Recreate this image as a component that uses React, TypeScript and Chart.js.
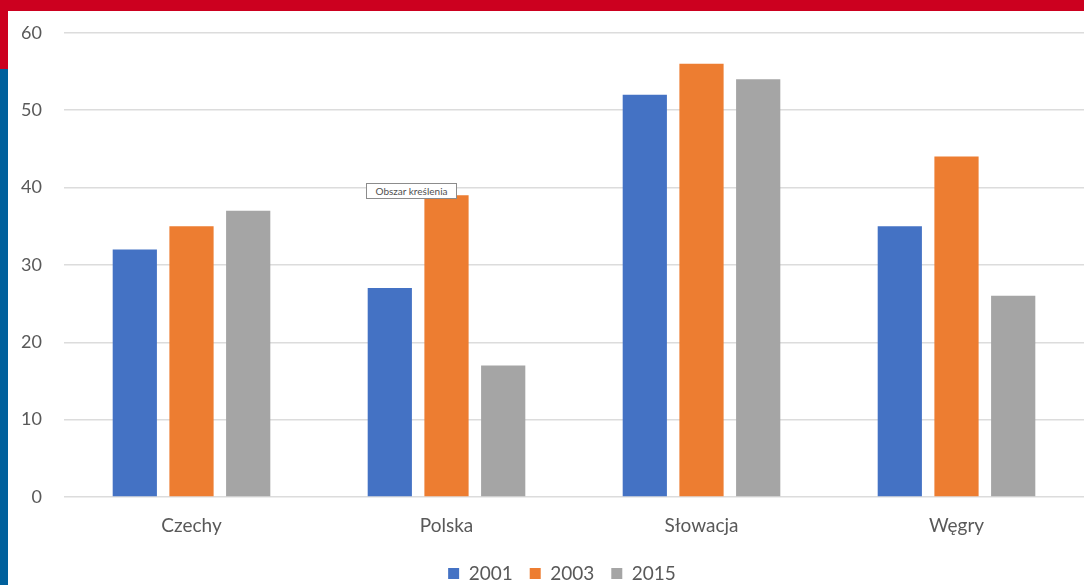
import React, { useEffect, useRef } from "react";
import { Chart, registerables } from "chart.js";

Chart.register(...registerables);

const categories = ["Czechy", "Polska", "Słowacja", "Węgry"];
const seriesLabels = ["2001", "2003", "2015"];
const values2001 = [32, 27, 52, 35];
const values2003 = [35, 39, 56, 44];
const values2015 = [37, 17, 54, 26];
const seriesColors = ["#4472C4", "#ED7D31", "#A5A5A5"];
const yTicks = [0, 10, 20, 30, 40, 50, 60];

const FONT = "Lato, 'Open Sans', sans-serif";

const shiftLegend = {
  id: "shiftLegend",
  afterLayout(chart: any) {
    if (chart.legend) {
      chart.legend.left += 16;
      chart.legend.right += 16;
    }
  },
};

export default function App() {
  const ref = useRef<HTMLCanvasElement | null>(null);

  useEffect(() => {
    document.body.style.margin = "0";
    const ctx = ref.current!.getContext("2d")!;
    const chart = new Chart(ctx, {
      type: "bar",
      data: {
        labels: categories,
        datasets: [values2001, values2003, values2015].map((d, i) => ({
          label: seriesLabels[i],
          data: d,
          backgroundColor: seriesColors[i],
          borderWidth: 0,
          categoryPercentage: 0.667,
          barPercentage: 0.78,
        })),
      },
      plugins: [shiftLegend],
      options: {
        animation: false,
        responsive: false,
        maintainAspectRatio: false,
        layout: { padding: { top: 13, left: 0, right: 0, bottom: 0 } },
        plugins: {
          tooltip: { enabled: false },
          legend: {
            position: "bottom",
            labels: {
              boxWidth: 11,
              boxHeight: 11,
              padding: 17,
              color: "#595959",
              font: { family: FONT, size: 19 },
            },
          },
        },
        scales: {
          x: {
            grid: { display: false, drawTicks: false },
            border: { display: false },
            ticks: {
              color: "#595959",
              padding: 17,
              font: { family: FONT, size: 19 },
            },
            afterFit: (s: any) => {
              s.height = 50;
            },
          },
          y: {
            min: 0,
            max: 60,
            afterBuildTicks: (s: any) => {
              s.ticks = yTicks.map((v) => ({ value: v }));
            },
            grid: { color: "#DCDCDC", lineWidth: 1.5, drawTicks: false },
            border: { display: false },
            ticks: {
              color: "#595959",
              padding: 22,
              font: { family: FONT, size: 18 },
            },
            afterFit: (s: any) => {
              s.width = 56;
            },
          },
        },
      },
    });
    return () => chart.destroy();
  }, []);

  return (
    <div
      style={{
        position: "fixed",
        left: 0,
        top: 0,
        width: 1084,
        height: 585,
        background: "#FFFFFF",
        overflow: "hidden",
      }}
    >
      <canvas
        ref={ref}
        width={1076}
        height={593}
        style={{ position: "absolute", left: 8, top: 0, width: 1076, height: 593 }}
      />
      <div style={{ position: "absolute", left: 0, top: 0, width: 1084, height: 11, background: "#CC001F" }} />
      <div style={{ position: "absolute", left: 0, top: 0, width: 8, height: 69, background: "#CC001F" }} />
      <div style={{ position: "absolute", left: 0, top: 69, width: 8, height: 516, background: "#00609C" }} />
      <div
        style={{
          position: "absolute",
          left: 366,
          top: 183,
          width: 91,
          height: 16,
          border: "1px solid #8C8C8C",
          background: "#FFFFFF",
          fontFamily: FONT,
          fontSize: 10,
          color: "#505050",
          lineHeight: "14px",
          textAlign: "center",
          boxSizing: "border-box",
        }}
      >
        Obszar kreślenia
      </div>
    </div>
  );
}
